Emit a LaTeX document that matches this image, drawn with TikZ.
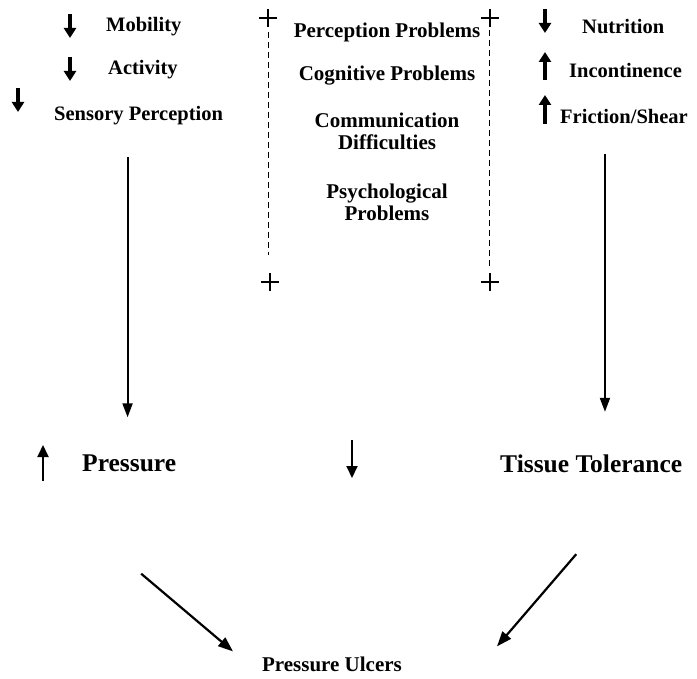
\documentclass[tikz,border=0pt]{standalone}
\usepackage{fontspec}
\setmainfont{Liberation Serif}
\usetikzlibrary{arrows.meta,calc}

\tikzset{
    lbl/.style={font=\fontsize{20.5}{22}\selectfont\bfseries, inner sep=1pt},
    midlbl/.style={font=\fontsize{21}{22}\selectfont\bfseries, inner sep=1pt, align=center},
    biglbl/.style={font=\fontsize{25.5}{27}\selectfont\bfseries, inner sep=1pt},
    tinyarr/.style={line width=3.2pt, -{Triangle[width=12pt,length=10pt]}},
    midarr/.style={line width=2pt, -{Triangle[width=11pt,length=12pt]}},
    longarr/.style={line width=2pt, -{Triangle[width=10pt,length=14pt]}},
    diagarr/.style={line width=2.2pt, -{Triangle[width=11pt,length=15pt]}},
    dashline/.style={line width=1pt, dash pattern=on 6pt off 4pt},
    plusmark/.pic={\draw[line width=1.3pt] (-9,0) -- (9,0) (0,-9) -- (0,9);}
}

\begin{document}
\begin{tikzpicture}[x=1pt, y=-1pt]
    \useasboundingbox (0,0) rectangle (697,679);
    % left column
    \node [lbl, right] (mob) at (105,27) {Mobility};
    \node [lbl, right] (act) at (107,70) {Activity};
    \node [lbl, right] (sens) at (53,116) {Sensory Perception};
    \draw[tinyarr] (70,14) -- (70,38);
    \draw[tinyarr] (70,57) -- (70,81);
    \draw[tinyarr] (18,88) -- (18,112);
    % right column
    \node [lbl, right] (nutr) at (581,27) {Nutrition};
    \node [lbl, right] (inco) at (568,70) {Incontinence};
    \node [lbl, right] (fric) at (559,116) {Friction/Shear};
    \draw[tinyarr] (545,9) -- (545,33);
    \draw[tinyarr] (545,80) -- (545,52);
    \draw[tinyarr] (545,124) -- (545,95);
    % middle box
    \node [midlbl] (perc) at (387,32) {Perception Problems};
    \node [midlbl] (cogn) at (387,76) {Cognitive Problems};
    \node [midlbl] (comm) at (387,131) {Communication\\Difficulties};
    \node [midlbl] (psyc) at (387,202) {Psychological\\Problems};
    \coordinate (tl) at (268,18);
    \coordinate (tr) at (490,18);
    \coordinate (bl) at (270,282);
    \coordinate (br) at (490,282);
    \foreach \c in {tl,tr,bl,br}
        \pic at (\c) {plusmark};
    \draw[dashline] ($(tl)+(0,14)$) -- ($(bl)+(-2,-27)$);
    \draw[dashline] ($(tr)+(-1,12)$) -- ($(br)+(-1,-14)$);
    % outcomes
    \node [biglbl, right] (pres) at (81,463) {Pressure};
    \node [biglbl, right] (tiss) at (499,464) {Tissue Tolerance};
    \draw[midarr] (43,481) -- (43,445);
    \draw[midarr] (352,440) -- (352,478);
    \node [font=\fontsize{21}{23}\selectfont\bfseries, inner sep=1pt] (ulc) at (332,664) {Pressure Ulcers};
    % connectors
    \draw[longarr] ($(sens.south)+(-11,30)$) -- ($(sens.south |- pres.north)+(-11,-36)$);
    \draw[longarr] ($(fric.south)+(-19,30)$) -- ($(fric.south |- tiss.north)+(-19,-42)$);
    \draw[diagarr] ($(pres.south)+(12,101)$) -- ($(ulc.north)+(-99,-4)$);
    \draw[diagarr] ($(tiss.south)+(-15,80)$) -- ($(ulc.north)+(165,-9)$);
\end{tikzpicture}
\end{document}
